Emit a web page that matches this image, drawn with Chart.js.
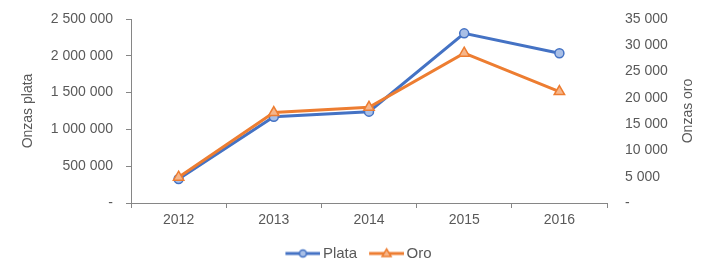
<!DOCTYPE html>
<html><head><meta charset="utf-8">
<script src="https://cdn.jsdelivr.net/npm/chart.js@4/dist/chart.umd.min.js"></script>
<style>html,body{margin:0;padding:0;background:#fff}#wrap{width:717px;height:276px}</style>
</head><body><div id="wrap"><canvas id="c" width="717" height="276"></canvas></div>
<script>
const years = ['2012', '2013', '2014', '2015', '2016'];
const plata = [326000, 1173000, 1241000, 2305000, 2034000];
const oro = [4900, 17200, 18200, 28500, 21200];
const plataLabel = 'Plata';
const oroLabel = 'Oro';
const leftTitle = 'Onzas plata';
const rightTitle = 'Onzas oro';

const BLUE = '#4472C4', BLUE_FILL = '#A9BFE6';
const ORANGE = '#ED7D31', ORANGE_FILL = '#F6B68B';
const TXT = '#595959', AX = '#868686';
const FONT = '"Liberation Sans", Arial, sans-serif';
Chart.defaults.font.family = FONT;
Chart.defaults.font.size = 14;
Chart.defaults.color = TXT;

function fmt(v) {
  if (v === 0) return '-';
  return String(v).replace(/\B(?=(\d{3})+(?!\d))/g, '\u00a0');
}

function legendImg(color, fill, shape) {
  const W = 40, H = 14;
  const c = document.createElement('canvas');
  c.width = W; c.height = H;
  const g = c.getContext('2d');
  g.strokeStyle = color; g.lineWidth = 3;
  g.beginPath(); g.moveTo(5, H / 2); g.lineTo(W, H / 2); g.stroke();
  const cx = 5 + 35 / 2, cy = H / 2;
  g.lineWidth = 1.5; g.fillStyle = fill; g.strokeStyle = color;
  g.beginPath();
  if (shape === 'circle') {
    g.arc(cx, cy, 3.5, 0, Math.PI * 2);
  } else {
    g.moveTo(cx, cy - 4.5); g.lineTo(cx + 4.5, cy + 3); g.lineTo(cx - 4.5, cy + 3); g.closePath();
  }
  g.fill(); g.stroke();
  return c;
}
const legendImgs = [legendImg(BLUE, BLUE_FILL, 'circle'), legendImg(ORANGE, ORANGE_FILL, 'tri')];

const rightTitlePlugin = {
  id: 'rightTitle',
  afterDraw(chart) {
    const ctx = chart.ctx, a = chart.chartArea;
    ctx.save();
    ctx.translate(688, (a.top + a.bottom) / 2);
    ctx.rotate(-Math.PI / 2);
    ctx.textAlign = 'center';
    ctx.textBaseline = 'middle';
    ctx.font = '14px ' + FONT;
    ctx.fillStyle = TXT;
    ctx.fillText(rightTitle, 0, 0);
    ctx.restore();
  }
};

function noPad(s) {
  s.paddingTop = 0; s.paddingBottom = 0; s.paddingLeft = 0; s.paddingRight = 0;
}

new Chart(document.getElementById('c'), {
  type: 'line',
  data: {
    labels: years,
    datasets: [
      {
        label: plataLabel, data: plata, yAxisID: 'y', order: 1,
        borderColor: BLUE, borderWidth: 3, backgroundColor: BLUE_FILL,
        pointStyle: 'circle', pointRadius: 4.5, pointBorderWidth: 1.5,
        pointBackgroundColor: BLUE_FILL, pointBorderColor: BLUE, tension: 0
      },
      {
        label: oroLabel, data: oro, yAxisID: 'y1', order: 0,
        borderColor: ORANGE, borderWidth: 3, backgroundColor: ORANGE_FILL,
        pointStyle: 'triangle', pointRadius: 6, pointBorderWidth: 1.5,
        pointBackgroundColor: ORANGE_FILL, pointBorderColor: ORANGE, tension: 0
      }
    ]
  },
  options: {
    responsive: false,
    animation: false,
    devicePixelRatio: 1,
    layout: { autoPadding: false, padding: { top: 19, bottom: 5, left: 0, right: 0 } },
    plugins: {
      tooltip: { enabled: false },
      legend: {
        position: 'bottom',
        labels: {
          usePointStyle: true,
          pointStyleWidth: 30,
          padding: 12,
          color: TXT,
          font: { size: 15 },
          generateLabels(chart) {
            const items = Chart.defaults.plugins.legend.labels.generateLabels(chart);
            items.sort((a, b) => a.datasetIndex - b.datasetIndex);
            items.forEach(it => { it.pointStyle = legendImgs[it.datasetIndex]; it.rotation = 0; });
            return items;
          }
        }
      }
    },
    scales: {
      x: {
        type: 'category',
        offset: true,
        grid: { display: true, drawOnChartArea: false, drawTicks: true, tickLength: 5, offset: true, color: AX },
        border: { display: true, color: AX, width: 1 },
        ticks: { color: TXT, font: { size: 14 }, padding: 4, maxRotation: 0 },
        afterFit(s) { s.height = 31; noPad(s); }
      },
      y: {
        position: 'left',
        min: 0, max: 2500000,
        grid: { display: true, drawOnChartArea: false, drawTicks: true, tickLength: 5, color: AX },
        border: { display: true, color: AX, width: 1 },
        ticks: { stepSize: 500000, autoSkip: false, color: TXT, font: { size: 14 }, padding: 13, callback: v => fmt(v) },
        title: { display: true, text: leftTitle, color: TXT, font: { size: 14 }, padding: { top: 20, bottom: 0 } },
        afterFit(s) { s.width = 131; noPad(s); }
      },
      y1: {
        position: 'right',
        min: 0, max: 35000,
        grid: { display: false, drawOnChartArea: false, drawTicks: false },
        border: { display: false },
        ticks: { stepSize: 5000, autoSkip: false, color: TXT, font: { size: 14 }, padding: 18, callback: v => fmt(v) },
        afterFit(s) { s.width = 110; noPad(s); }
      }
    }
  },
  plugins: [rightTitlePlugin]
});
</script>
</body></html>
